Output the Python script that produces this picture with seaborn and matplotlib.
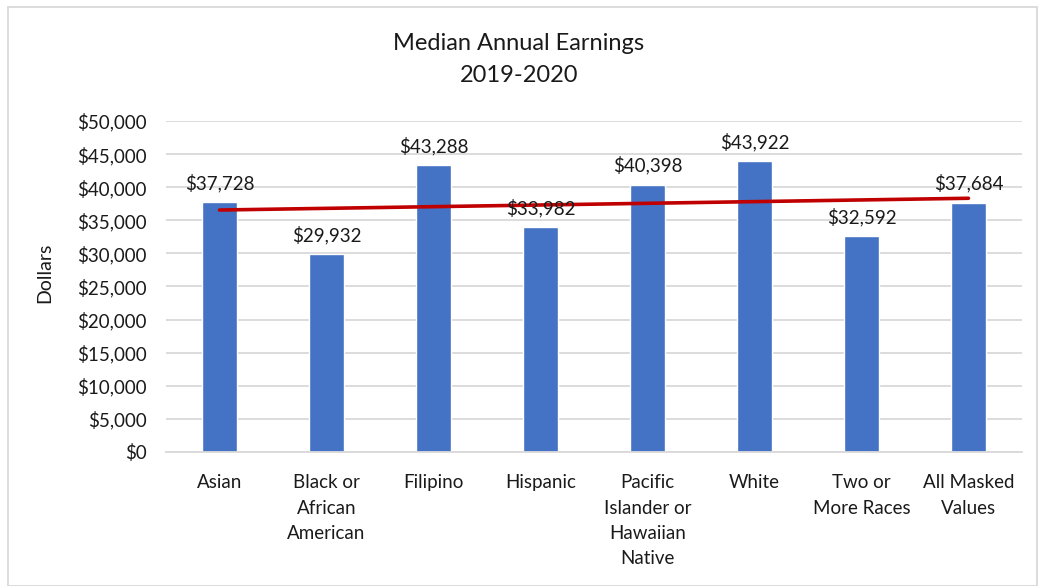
import numpy as np
import pandas as pd
import matplotlib
matplotlib.use('Agg')
import matplotlib.pyplot as plt
import seaborn as sns
from matplotlib.patches import Rectangle
from matplotlib.ticker import FuncFormatter

# Data
groups = ['Asian', 'Black or\nAfrican\nAmerican', 'Filipino', 'Hispanic',
          'Pacific\nIslander or\nHawaiian\nNative', 'White',
          'Two or\nMore Races', 'All Masked\nValues']
earnings = [37728, 29932, 43288, 33982, 40398, 43922, 32592, 37684]
y_ticks = list(range(0, 50001, 5000))

df = pd.DataFrame({'group': groups, 'earnings': earnings})

sns.set_theme(style='white')
plt.rcParams['font.family'] = ['Lato', 'DejaVu Sans']

fig = plt.figure(figsize=(10.39, 5.86), dpi=100)
ax = fig.add_axes([0.1598, 0.2287, 0.8238, 0.5648])

sns.barplot(data=df, x='group', y='earnings', color='#4472C4',
            saturation=1, width=0.32, ax=ax)

# linear trendline, as Excel draws it
xs = np.arange(len(earnings))
slope, icpt = np.polyfit(xs, earnings, 1)
ax.plot(xs, slope * xs + icpt, color='#C00000', lw=2.6, zorder=3)

# data labels
for i, v in enumerate(earnings):
    ax.annotate(f'${v:,}', (i, v), xytext=(0, 7), textcoords='offset points',
                ha='center', va='bottom', fontsize=13.5, color='#1a1a1a')

ax.set_ylim(0, 50000)
ax.set_xlim(-0.5, len(groups) - 0.5)
ax.set_yticks(y_ticks)
ax.yaxis.set_major_formatter(FuncFormatter(lambda v, p: f'${int(v):,}'))
ax.grid(axis='y', color='#D9D9D9', lw=1.3)
ax.set_axisbelow(True)
for s in ['top', 'right', 'left']:
    ax.spines[s].set_visible(False)
ax.spines['bottom'].set_color('#D9D9D9')
ax.spines['bottom'].set_linewidth(1.3)
ax.tick_params(axis='both', length=0, labelsize=13.5, colors='#1a1a1a')
ax.tick_params(axis='x', pad=16)
ax.tick_params(axis='y', pad=14)
for t in ax.get_xticklabels():
    t.set_linespacing(1.6)

ax.set_xlabel('')
ax.set_ylabel('Dollars', fontsize=14, color='#1a1a1a')
ax.yaxis.set_label_coords(-0.132, 0.54)

fig.text(0.4995, 0.925, 'Median Annual Earnings', ha='center', va='center',
         fontsize=17, color='#1a1a1a')
fig.text(0.4995, 0.872, '2019-2020', ha='center', va='center',
         fontsize=17, color='#1a1a1a')

# light chart-area border
fig.patches.append(Rectangle((8 / 1039, 0.0), 1029 / 1039, 1 - 7 / 586,
                             transform=fig.transFigure, fill=False,
                             edgecolor='#D9D9D9', lw=1.3))

fig.savefig('out.png', dpi=100)
